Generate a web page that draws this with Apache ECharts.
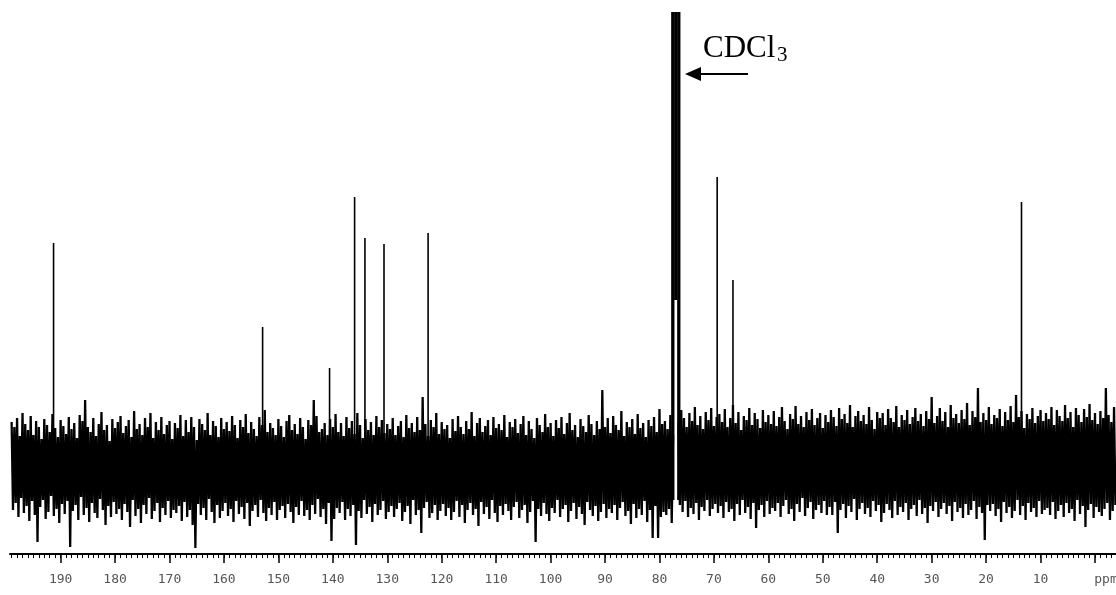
<!DOCTYPE html>
<html>
<head>
<meta charset="utf-8">
<title>13C NMR</title>
<script src="https://cdn.jsdelivr.net/npm/echarts@6.0.0/dist/echarts.min.js"></script>
<style>
  html, body { margin: 0; padding: 0; background: #fff; }
  #chart { width: 1116px; height: 595px; }
</style>
</head>
<body>
<div id="chart"></div>
<script>
// tick labels (ppm)
let majorTicks = [190, 180, 170, 160, 150, 140, 130, 120, 110, 100, 90, 80, 70, 60, 50, 40, 30, 20, 10, 0]

// signals: shift (ppm) and height above baseline
let peakPpm = [191.3, 152.9, 140.6, 136.0, 134.1, 130.6, 122.5, 69.4, 66.5, 13.5]
let peakHeight = [222, 138, 97, 268, 227, 221, 232, 288, 185, 263]

// solvent triplet (CDCl3), drawn as the trace going up / down
let solventPpm = [77.55, 77.0, 76.45]
let solventLow = [-35, 165, -35]
let solventHigh = [453, 453, 453]

// baseline noise: upper / lower swing every 0.5 ppm
let noiseStart = 199
let noiseStep = 0.5
let noiseTop = [
  43,38,47,29,52,41,35,49,30,44,38,26,46,40,33,51,37,28,45,39,
  31,48,36,42,27,50,44,65,38,33,47,29,41,53,35,40,24,46,37,43,
  49,32,39,45,28,54,36,41,30,47,38,52,27,43,35,48,31,40,44,26,
  42,37,50,29,45,33,48,38,25,46,41,35,52,30,44,39,28,47,36,43,
  34,49,40,27,45,38,51,32,43,36,29,48,40,55,33,42,37,30,46,39,
  28,44,50,35,41,31,47,38,26,45,40,65,49,33,36,42,30,46,38,51,
  33,42,29,48,37,44,31,52,40,27,46,35,43,30,49,38,45,32,41,36,
  47,30,39,44,28,50,37,42,33,48,35,68,41,29,45,38,52,31,43,36,
  40,27,46,34,49,38,31,44,36,53,29,42,47,33,39,45,30,48,37,41,
  35,50,28,43,38,46,32,41,49,30,44,36,27,47,40,33,51,38,42,29,
  45,37,48,31,42,52,35,40,28,46,39,33,50,41,30,44,36,75,38,47,
  32,49,40,35,54,29,43,38,46,31,51,37,42,28,45,39,48,33,56,41,
  44,36,50,30,'-',42,55,47,38,52,44,58,40,49,36,53,45,57,39,48,
  51,43,56,38,47,60,42,53,35,49,45,57,40,52,46,37,55,43,50,41,
  54,39,48,58,44,36,51,46,59,41,49,38,53,45,56,40,47,52,37,50,
  43,55,48,39,57,46,51,42,60,38,49,54,44,50,41,58,45,36,53,47,
  52,40,56,47,43,59,38,50,45,55,41,48,57,44,51,39,54,46,68,42,
  49,57,44,53,38,60,47,51,42,55,46,62,40,54,48,77,43,52,45,58,
  41,50,47,56,39,53,45,59,43,70,48,54,37,51,46,57,42,49,55,44,
  52,46,58,40,55,49,44,60,47,53,38,57,50,43,56,48,61,45,52,41,
  54,47,77,50,43,58
]
let noiseBottom = [
  -45,-38,-52,-33,-48,-41,-56,-36,-50,-77,-42,-35,-54,-47,-31,-51,-44,-58,-39,-49,
  -36,-82,-46,-40,-55,-32,-50,-43,-57,-38,-48,-53,-34,-45,-60,-41,-52,-37,-49,-44,
  -55,-39,-47,-62,-35,-51,-44,-58,-40,-49,-33,-54,-46,-38,-57,-43,-50,-36,-53,-45,
  -48,-41,-56,-37,-52,-45,-60,-83,-39,-50,-43,-55,-34,-47,-58,-40,-53,-46,-38,-51,
  -44,-57,-36,-49,-42,-54,-38,-61,-46,-40,-52,-35,-48,-56,-43,-50,-37,-55,-45,-41,
  -53,-39,-47,-58,-42,-50,-36,-51,-45,-55,-40,-49,-34,-52,-44,-59,-38,-76,-54,-43,
  -48,-37,-55,-44,-51,-40,-80,-46,-53,-35,-49,-42,-57,-39,-50,-45,-36,-54,-47,-41,
  -52,-44,-38,-56,-47,-41,-59,-35,-50,-45,-68,-43,-37,-53,-48,-40,-55,-46,-39,-51,
  -43,-55,-47,-36,-52,-40,-58,-45,-38,-50,-44,-61,-37,-49,-42,-54,-35,-48,-57,-41,
  -50,-39,-46,-55,-42,-37,-53,-45,-40,-58,-47,-36,-77,-44,-51,-38,-49,-56,-43,-48,
  -35,-52,-44,-40,-57,-46,-38,-54,-42,-49,-60,-37,-45,-51,-41,-56,-47,-39,-53,-44,
  -48,-40,-55,-43,-37,-51,-46,-59,-39,-53,-44,-50,-36,-57,-45,-73,-41,-73,-52,-47,
  -50,-44,-58,'-','-',-40,-47,-36,-52,-43,-49,-38,-55,-42,-46,-35,-51,-44,-39,-48,
  -41,-53,-37,-47,-44,-56,-39,-50,-35,-48,-42,-54,-38,-63,-45,-40,-52,-36,-49,-43,
  -46,-38,-52,-41,-35,-49,-44,-56,-39,-47,-33,-51,-43,-37,-54,-45,-40,-48,-36,-50,
  -42,-50,-37,-68,-45,-39,-53,-41,-47,-34,-55,-44,-38,-49,-43,-52,-36,-46,-40,-57,
  -48,-39,-45,-53,-36,-50,-42,-47,-38,-55,-44,-40,-51,-35,-49,-43,-58,-41,-46,-37,
  -52,-44,-38,-49,-41,-56,-37,-47,-43,-53,-39,-50,-45,-36,-54,-42,-48,-75,-40,-46,
  -39,-51,-44,-57,-37,-48,-42,-53,-46,-35,-50,-41,-55,-38,-47,-43,-52,-36,-49,-45,
  -43,-50,-37,-54,-46,-40,-52,-38,-48,-44,-56,-35,-49,-41,-62,-45,-39,-53,-42,-47,
  -51,-44,-38,-55,-46,-40
]

// minor ticks every 1 ppm
let minorTicks = []
for (let v = -3; v <= 199; v++) minorTicks.push(v)

// zigzag trace: top sample, then bottom sample a quarter step later
let noiseData = []
for (let i = 0; i < noiseTop.length; i++) {
  let x = noiseStart - i * noiseStep
  noiseData.push([x, noiseTop[i]])
  noiseData.push([x - noiseStep / 2, noiseBottom[i]])
}

let peakData = peakPpm.map((p, i) => [p, 0, peakHeight[i]])
let solventData = solventPpm.map((p, i) => [p, solventLow[i], solventHigh[i]])

function stick (width) {
  return function (params, api) {
    let a = api.coord([api.value(0), api.value(1)])
    let b = api.coord([api.value(0), api.value(2)])
    return {
      type: 'line',
      shape: { x1: a[0], y1: a[1], x2: b[0], y2: b[1] },
      style: { stroke: '#000', lineWidth: width }
    }
  }
}

let option = {
  animation: false,
  backgroundColor: '#fff',
  grid: { left: 10, right: 0, top: 0, bottom: 41, outerBoundsMode: 'none', containLabel: false },
  xAxis: [
    {
      type: 'value',
      inverse: true,
      min: -3.86,
      max: 199.3,
      position: 'bottom',
      axisLine: { onZero: false, lineStyle: { color: '#000', width: 2 } },
      axisTick: { customValues: majorTicks, length: 9, lineStyle: { color: '#000', width: 1.5 } },
      axisLabel: {
        customValues: majorTicks,
        margin: 19,
        fontFamily: 'DejaVu Sans Mono',
        fontSize: 13,
        color: '#555',
        formatter: v => v === 0 ? '{p|ppm}' : String(v),
        rich: { p: { fontFamily: 'DejaVu Sans Mono', fontSize: 13, color: '#555', padding: [0, 0, 0, 22] } }
      },
      splitLine: { show: false }
    },
    {
      type: 'value',
      inverse: true,
      min: -3.86,
      max: 199.3,
      position: 'bottom',
      axisLine: { show: false, onZero: false },
      axisTick: { customValues: minorTicks, length: 4, lineStyle: { color: '#000', width: 1 } },
      axisLabel: { show: false },
      splitLine: { show: false }
    }
  ],
  yAxis: { type: 'value', min: -89, max: 465, show: false },
  series: [
    {
      type: 'line',
      data: noiseData,
      showSymbol: false,
      symbol: 'none',
      connectNulls: false,
      lineStyle: { color: '#000', width: 2.3 },
      z: 2
    },
    {
      type: 'custom',
      data: peakData,
      encode: { x: 0, y: [1, 2] },
      renderItem: stick(1.6),
      z: 3
    },
    {
      type: 'custom',
      data: solventData,
      encode: { x: 0, y: [1, 2] },
      renderItem: stick(3.3),
      z: 3
    }
  ],
  graphic: [
    { type: 'text', left: 703, top: 33, style: { text: 'CDCl', font: '31px "Liberation Serif"', fill: '#000' } },
    { type: 'text', left: 777, top: 45, style: { text: '3', font: '21px "Liberation Serif"', fill: '#000' } },
    { type: 'line', shape: { x1: 748, y1: 74, x2: 698, y2: 74 }, style: { stroke: '#000', lineWidth: 2 } },
    { type: 'polygon', shape: { points: [[685, 74], [701, 67], [701, 81]] }, style: { fill: '#000' } }
  ]
}

let myChart = echarts.init(document.getElementById('chart'))
myChart.setOption(option)
</script>
</body>
</html>
